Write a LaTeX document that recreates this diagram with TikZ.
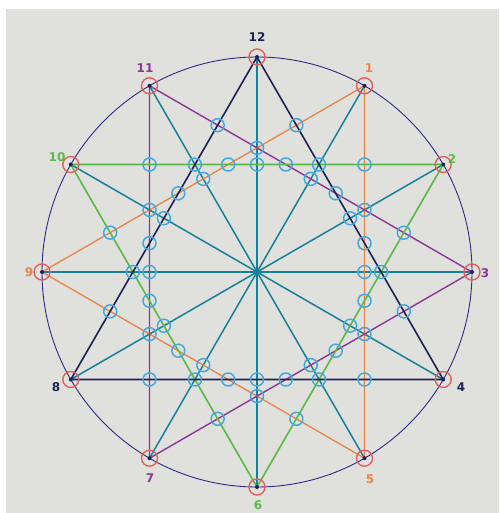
\documentclass[tikz,border=0pt]{standalone}
\usepackage{fontspec}
\setsansfont{DejaVu Sans}
\definecolor{paper}{HTML}{E0E0DC}
\definecolor{rimc}{HTML}{2A2C86}
\definecolor{navyc}{HTML}{1C2158}
\definecolor{tealc}{HTML}{16809A}
\definecolor{orangec}{HTML}{E8844A}
\definecolor{greenc}{HTML}{5CB848}
\definecolor{purplec}{HTML}{8A3796}
\definecolor{bluec}{HTML}{45A8DC}
\definecolor{redc}{HTML}{E0625E}
\tikzset{
  rim/.style={draw=rimc, line width=0.9pt},
  navyline/.style={draw=navyc, line width=1.6pt},
  tealline/.style={draw=tealc, line width=1.5pt},
  orangeline/.style={draw=orangec, line width=1.3pt},
  greenline/.style={draw=greenc, line width=1.6pt},
  purpleline/.style={draw=purplec, line width=1.4pt},
  bluering/.style={draw=bluec, line width=1.5pt},
  redring/.style={draw=redc, line width=1.4pt},
  lab/.style={font=\sffamily\bfseries\fontsize{12}{12}\selectfont, inner sep=0pt},
}
\begin{document}
\begin{tikzpicture}[x=1pt,y=-1pt]
\useasboundingbox (0,0) rectangle (499,513);
\fill[white] (0,0) rectangle (499,513);
\fill[paper] (6,9) rectangle (499,513);
\coordinate (O) at (257,272);
\foreach \k in {0,...,11} {
  \coordinate (P\k) at ({257+215*cos(90-30*\k)},{272-215*sin(90-30*\k)});
}
\draw[rim] (O) circle[radius=215pt];
% diameters
\draw[tealline] (P0) -- (P6);
\draw[tealline] (P1) -- (P7);
\draw[tealline] (P2) -- (P8);
\draw[tealline] (P3) -- (P9);
\draw[tealline] (P4) -- (P10);
\draw[tealline] (P5) -- (P11);
% triangles
\draw[orangeline] (P1) -- (P5) -- (P9) -- cycle;
\draw[purpleline] (P3) -- (P7) -- (P11) -- cycle;
\draw[greenline] (P2) -- (P6) -- (P10) -- cycle;
\draw[navyline] (P0) -- (P4) -- (P8) -- cycle;
% intersection rings
\foreach \k in {0,...,11} {
  \pgfmathsetmacro\a{90-30*\k}
  \pgfmathsetmacro\b{75-30*\k}
  \draw[bluering] ({257+107.5*cos(\a)},{272-107.5*sin(\a)}) circle[radius=6.5pt];
  \draw[bluering] ({257+124.1*cos(\a)},{272-124.1*sin(\a)}) circle[radius=6.5pt];
  \draw[bluering] ({257+111.3*cos(\b)},{272-111.3*sin(\b)}) circle[radius=6.5pt];
  \draw[bluering] ({257+152.0*cos(\b)},{272-152.0*sin(\b)}) circle[radius=6.5pt];
}
% vertex rings and tips
\foreach \k in {0,...,11} {
  \draw[redring] (P\k) circle[radius=8pt];
  \fill[navyc] (P\k) circle[radius=2pt];
}
% labels
\node[lab, text=navyc] (L12) at (257,37) {12};
\node[lab, text=orangec] (L1) at (369,68) {1};
\node[lab, text=greenc] (L2) at (452,159) {2};
\node[lab, text=purplec] (L3) at (485,273) {3};
\node[lab, text=navyc] (L4) at (461,387) {4};
\node[lab, text=orangec] (L5) at (370,479) {5};
\node[lab, text=greenc] (L6) at (258,505) {6};
\node[lab, text=purplec] (L7) at (150,478) {7};
\node[lab, text=navyc] (L8) at (56,387) {8};
\node[lab, text=orangec] (L9) at (29,272) {9};
\node[lab, text=greenc] (L10) at (57,157) {10};
\node[lab, text=purplec] (L11) at (145,68) {11};
\end{tikzpicture}
\end{document}
